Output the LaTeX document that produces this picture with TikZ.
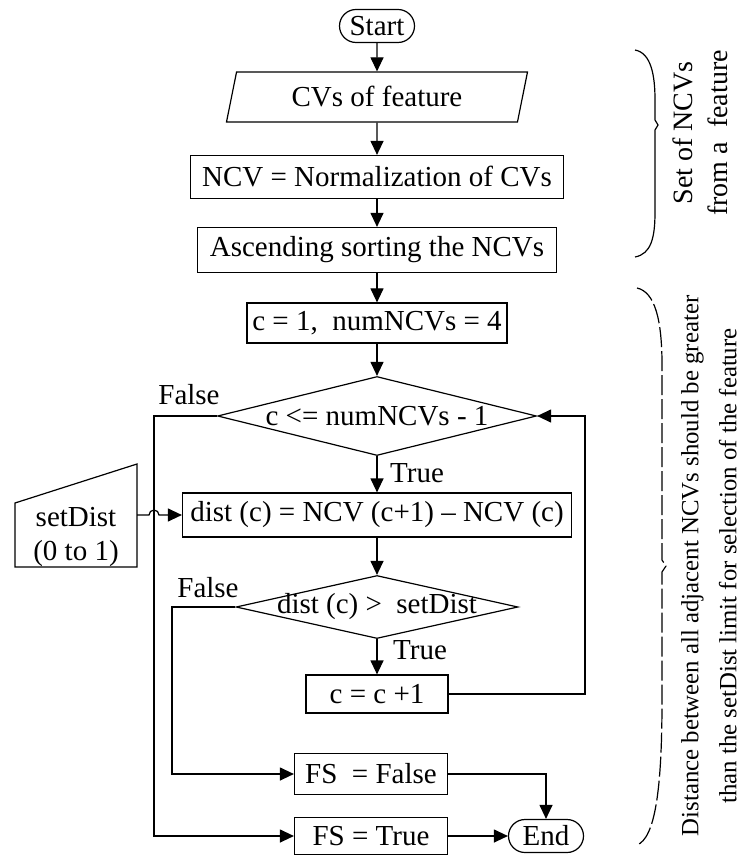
\documentclass[tikz,border=0pt]{standalone}
\usepackage{fontspec}
\setmainfont{Liberation Serif}
\usetikzlibrary{shapes.geometric,shapes.misc,arrows.meta}

\begin{document}
\begin{tikzpicture}[
   x=0.5pt, y=-0.5pt,
   every node/.style={font=\fontsize{14.5}{17}\selectfont, inner sep=1pt},
   box/.style={draw, rectangle, line width=0.6pt},
   term/.style={draw, rounded rectangle, line width=0.6pt,
                minimum width=39.5pt, minimum height=16.5pt},
   io/.style={draw, trapezium, trapezium left angle=68, trapezium right angle=112,
              trapezium stretches body, line width=0.6pt},
   decision/.style={draw, diamond, line width=0.6pt, inner sep=0pt},
   flow/.style={-{Triangle[length=7pt,width=6.5pt]}, line width=0.6pt},
   wire/.style={line width=0.6pt},
   note/.style={rotate=90, align=center}]

\useasboundingbox (0,0) rectangle (741,855);

\node[term] (start) at (377,26) {Start};
\node[io, minimum width=150.5pt, minimum height=25pt] (cvs) at (377,97) {CVs of feature};
\node[box, minimum width=186.5pt, minimum height=21.5pt] (ncv) at (377,177) {NCV = Normalization of CVs};
\node[box, minimum width=179.5pt, minimum height=22.5pt] (sort) at (377,250) {Ascending sorting the NCVs};
\node[box, minimum width=130pt, minimum height=20pt] (init) at (377,323) {c = 1,\ \ numNCVs = 4};
\node[decision, minimum width=159.5pt, minimum height=39.5pt,
      label=center:{c <= numNCVs - 1}] (cond1) at (377,416) {};
\node[box, minimum width=194.5pt, minimum height=22pt] (dist) at (377,515) {dist (c) = NCV (c+1) \textendash{} NCV (c)};
\node[decision, minimum width=141pt, minimum height=31.5pt,
      label=center:{dist (c) >\ \ setDist}] (cond2) at (377,607) {};
\node[box, minimum width=71pt, minimum height=19pt] (incr) at (377,694) {c = c +1};
\node[box, minimum width=76.5pt, minimum height=20.5pt] (fsfalse) at (371,774) {FS\ \ = False};
\node[box, minimum width=76.5pt, minimum height=18.5pt] (fstrue) at (371,836) {FS = True};
\node[term] (end) at (546,836) {End};

\node (false1) at (189,395) {False};
\node (true1) at (417,473) {True};
\node (false2) at (208,588) {False};
\node (true2) at (420,650) {True};

\draw[wire] (15,503) -- (137,464) -- (137,567) -- (15,567) -- cycle;
\node[align=center] (setdist) at (76,537) {setDist\\(0 to 1)};

\coordinate (f1) at (154,416);
\coordinate (f2) at (172,607);
\coordinate (loop) at (585,694);
\coordinate (sdout) at (137,515);

\draw[flow] (start.south) -- (cvs.north);
\draw[flow] (cvs.south) -- (ncv.north);
\draw[flow] (ncv.south) -- (sort.north);
\draw[flow] (sort.south) -- (init.north);
\draw[flow] (init.south) -- (cond1.north);
\draw[flow] (cond1.south) -- (dist.north);
\draw[flow] (dist.south) -- (cond2.north);
\draw[flow] (cond2.south) -- (incr.north);
\draw[flow] (incr.east) -- (loop) |- (cond1.east);
\draw[flow] (cond1.west) -- (f1) |- (fstrue.west);
\draw[flow] (cond2.west) -- (f2) |- (fsfalse.west);
\draw[flow] (fsfalse.east) -| (end.north);
\draw[flow] (fstrue.east) -- (end.west);
\draw[flow] (sdout) -- ++(12,0) arc[start angle=180, end angle=0, radius=2.5pt] -- (dist.west);

\draw[wire] (635,50) .. controls (651,53) and (655,75) .. (655,100) -- (655,120)
   -- (658,125) -- (655,130) -- (655,212) .. controls (655,238) and (651,254) .. (635,257);
\draw[wire, dash pattern=on 10pt off 2pt] (637,288) .. controls (655,292) and (662,320) .. (662,365)
   -- (662,560) -- (666,566) -- (662,572) -- (662,700) .. controls (662,790) and (655,838) .. (637,845);

\node[note, font=\fontsize{14}{17.5}\selectfont] (setnote) at (700,133) {Set of NCVs\\from a\ \ feature};
\node[note, font=\fontsize{12.4}{19}\selectfont] (distnote) at (709,566)
   {Distance between all adjacent NCVs should be greater\\than the setDist limit for selection of the feature};

\end{tikzpicture}
\end{document}
